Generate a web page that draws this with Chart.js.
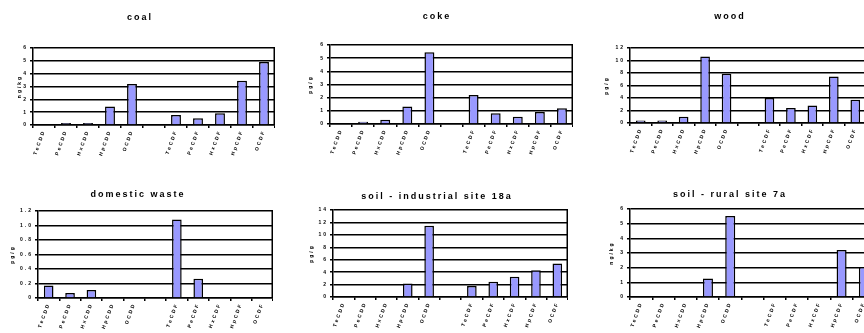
<!DOCTYPE html>
<html>
<head>
<meta charset="utf-8">
<script src="https://cdn.jsdelivr.net/npm/chart.js@4.4.1/dist/chart.umd.min.js"></script>
<style>
  html, body { margin: 0; padding: 0; background: #fff; }
  body { width: 864px; height: 333px; overflow: hidden; position: relative; }
  .panel { position: absolute; }
  canvas { display: block; }
</style>
</head>
<body>
<script>
// ---- data ----
const categories = ['TeCDD', 'PeCDD', 'HxCDD', 'HpCDD', 'OCDD', '', 'TeCDF', 'PeCDF', 'HxCDF', 'HpCDF', 'OCDF'];

const coalValues     = [0, 0.15, 0.15, 1.44, 3.2, null, 0.78, 0.52, 0.91, 3.45, 4.9];
const cokeValues     = [0, 0.18, 0.33, 1.32, 5.44, null, 2.2, 0.81, 0.56, 0.91, 1.19];
const woodValues     = [0.4, 0.4, 1.0, 10.66, 7.9, null, 4.0, 2.4, 2.82, 7.46, 3.74];
const domesticValues = [0.174, 0.068, 0.11, 0, 0, null, 1.084, 0.266, 0, 0, 0];
const soilIndValues  = [0, 0, 0, 2.16, 11.46, null, 1.78, 2.44, 3.24, 4.32, 5.4];
const soilRurValues  = [0, 0, 0, 1.26, 5.52, null, 0, 0, 0, 3.2, 2.05];

const coalTicks     = [0, 1, 2, 3, 4, 5, 6];
const cokeTicks     = [0, 1, 2, 3, 4, 5, 6];
const woodTicks     = [0, 2, 4, 6, 8, 10, 12];
const domesticTicks = [0, 0.2, 0.4, 0.6, 0.8, 1, 1.2];
const soilIndTicks  = [0, 2, 4, 6, 8, 10, 12, 14];
const soilRurTicks  = [0, 1, 2, 3, 4, 5, 6];

const titles = ['coal', 'coke', 'wood', 'domestic waste', 'soil - industrial site 18a', 'soil - rural site 7a'];
const yTitles = ['ng/kg', 'pg/g', 'pg/g', 'pg/g', 'pg/g', 'ng/kg'];

// ---- layout (positions/styles only) ----
const panels = [
  { values: coalValues,     ticks: coalTicks,     left: 5,   top: 0,   w: 270, h: 165, yw: 28, yTitlePad: 12, tPadTop: 12.6, tPadBot: 24.6, xh: 40 },
  { values: cokeValues,     ticks: cokeTicks,     left: 301, top: 0,   w: 272, h: 165, yw: 29, yTitlePad: 7,  tPadTop: 11.6, tPadBot: 22.6, xh: 41 },
  { values: woodValues,     ticks: woodTicks,     left: 594, top: 0,   w: 272, h: 165, yw: 36, yTitlePad: 10, tPadTop: 11.6, tPadBot: 25.6, xh: 42 },
  { values: domesticValues, ticks: domesticTicks, left: 3,   top: 165, w: 270, h: 168, yw: 35, yTitlePad: 7,  tPadTop: 24.6, tPadBot: 10.6, xh: 35 },
  { values: soilIndValues,  ticks: soilIndTicks,  left: 306, top: 165, w: 262, h: 168, yw: 27, yTitlePad: 3,  tPadTop: 26.6, tPadBot: 7.6,  xh: 36 },
  { values: soilRurValues,  ticks: soilRurTicks,  left: 585, top: 165, w: 290, h: 168, yw: 45, yTitlePad: 24, tPadTop: 24.6, tPadBot: 8.6,  xh: 36 }
];

Chart.defaults.font.family = '"Liberation Sans", Arial, sans-serif';
Chart.defaults.color = '#000';

const spacingPlugin = {
  id: 'spacing',
  beforeDraw(chart) { chart.ctx.letterSpacing = '2px'; },
  afterDraw(chart) { chart.ctx.letterSpacing = '0px'; }
};

const framePlugin = {
  id: 'frame',
  afterDatasetsDraw(chart) {
    const a = chart.chartArea, ctx = chart.ctx;
    ctx.save();
    ctx.strokeStyle = '#000';
    ctx.lineWidth = 1.5;
    ctx.beginPath();
    ctx.moveTo(Math.round(a.right) - 0.75, a.top);
    ctx.lineTo(Math.round(a.right) - 0.75, a.bottom);
    ctx.stroke();
    ctx.restore();
  }
};

panels.forEach((p, i) => {
  const div = document.createElement('div');
  div.className = 'panel';
  div.style.left = p.left + 'px';
  div.style.top = p.top + 'px';
  div.style.width = p.w + 'px';
  div.style.height = p.h + 'px';
  const canvas = document.createElement('canvas');
  canvas.width = p.w;
  canvas.height = p.h;
  div.appendChild(canvas);
  document.body.appendChild(div);

  new Chart(canvas, {
    type: 'bar',
    data: {
      labels: categories,
      datasets: [{
        data: p.values,
        backgroundColor: '#9999FF',
        borderColor: '#000',
        borderWidth: 1.5,
        barPercentage: 0.45,
        categoryPercentage: 1
      }]
    },
    options: {
      responsive: false,
      animation: false,
      layout: { padding: 0 },
      plugins: {
        legend: { display: false },
        tooltip: { enabled: false },
        title: {
          display: true,
          text: titles[i],
          color: '#000',
          font: { size: 9, weight: 'bold' },
          padding: { top: p.tPadTop, bottom: p.tPadBot }
        }
      },
      scales: {
        x: {
          grid: { offset: true, drawOnChartArea: false, drawTicks: true, tickLength: 3, color: '#000', lineWidth: 1.5 },
          border: { color: '#000', width: 1.5 },
          ticks: { autoSkip: false, minRotation: 70, maxRotation: 70, padding: 1, font: { size: 5, weight: 'bold' }, color: '#000' },
          afterFit(scale) { scale.height = p.xh; }
        },
        y: {
          min: p.ticks[0],
          max: p.ticks[p.ticks.length - 1],
          afterBuildTicks(scale) { scale.ticks = p.ticks.map(v => ({ value: v })); },
          grid: { color: '#000', lineWidth: 1.5, drawTicks: true, tickLength: 3 },
          border: { color: '#000', width: 1.5 },
          ticks: { padding: 2, font: { size: 5, weight: 'bold' }, color: '#000' },
          title: { display: true, text: yTitles[i], font: { size: 5, weight: 'bold' }, color: '#000', padding: { top: p.yTitlePad, bottom: 0 } },
          afterFit(scale) { scale.width = p.yw; }
        }
      }
    },
    plugins: [spacingPlugin, framePlugin]
  });
});
</script>
</body>
</html>
